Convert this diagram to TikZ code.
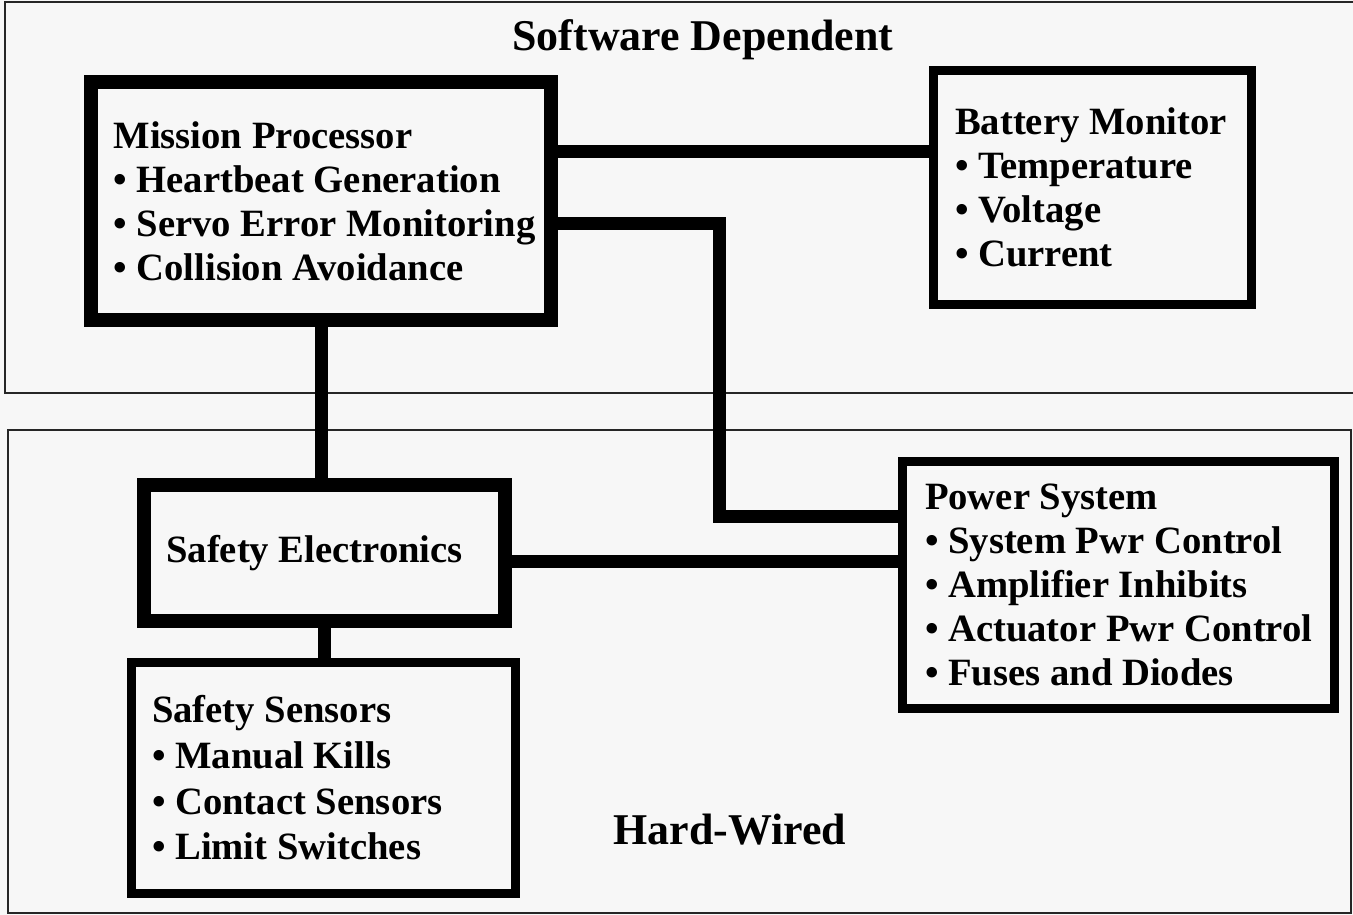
\documentclass[tikz,border=0pt]{standalone}
\usepackage{fontspec}
\setmainfont{Liberation Serif}
\definecolor{paper}{HTML}{F7F7F7}
\newcommand{\blt}[1]{\mbox{\textbullet~#1}}

\begin{document}
\begin{tikzpicture}[x=0.02cm, y=-0.02cm,
    font=\bfseries\fontsize{22}{25}\selectfont,
    box/.style={draw=black, fill=paper, align=flush left, inner sep=0.1cm},
    heavy/.style={line width=0.27cm},
    light/.style={line width=0.18cm},
    wire/.style={draw=black, line width=0.26cm, line join=miter},
    region/.style={draw=black!85, line width=0.6pt}]
  \useasboundingbox[fill=paper] (0,0) rectangle (1353,915);

  % the two zones
  \draw[region] (5,2) rectangle (1360,393);
  \draw[region] (8,430) rectangle (1351,913);
  \node[font=\bfseries\fontsize{25}{30}\selectfont] (soft) at (703,40) {Software Dependent};
  \node[font=\bfseries\fontsize{25}{30}\selectfont] (hard) at (730,830) {Hard-Wired};

  \node[box, heavy, minimum width=9.2cm, minimum height=4.76cm, text width=8.3cm]
    (mp) at (321,201) {\mbox{Mission Processor}\\\blt{Heartbeat Generation}\\
      \blt{Servo Error Monitoring}\\\blt{Collision Avoidance}};
  \node[box, light, minimum width=6.36cm, minimum height=4.68cm, text width=5.5cm]
    (bm) at (1092.5,187.5) {\mbox{Battery Monitor}\\\blt{Temperature}\\
      \blt{Voltage}\\\blt{Current}};
  \node[box, light, minimum width=8.64cm, minimum height=4.96cm, text width=7.74cm]
    (ps) at (1118.5,585) {\mbox{Power System}\\\blt{System Pwr Control}\\
      \blt{Amplifier Inhibits}\\\blt{Actuator Pwr Control}\\
      \blt{Fuses and Diodes}};
  \node[box, heavy, align=center, minimum width=7.22cm, minimum height=2.72cm]
    (se) at (324.5,553) {Safety Electronics\hspace*{0.4cm}};
  \node[box, light, minimum width=7.68cm, minimum height=4.62cm, text width=6.86cm,
        font=\bfseries\fontsize{22}{26}\selectfont]
    (ss) at (323.5,778) {\mbox{Safety Sensors}\\\blt{Manual Kills}\\
      \blt{Contact Sensors}\\\blt{Limit Switches}};

  \draw[wire] ([yshift=1cm]mp.east) -- ([yshift=1cm]mp.east -| bm.west);
  \draw[wire] ([yshift=-0.45cm]mp.east) -| ([xshift=-3.58cm,yshift=1.37cm]ps.west)
    -- ([yshift=1.37cm]ps.west);
  \draw[wire] (mp.south) -- (mp.south |- se.north);
  \draw[wire] ([yshift=-0.18cm]se.east) -- ([yshift=-0.18cm]se.east -| ps.west);
  \draw[wire] (se.south) -- (se.south |- ss.north);
\end{tikzpicture}
\end{document}
